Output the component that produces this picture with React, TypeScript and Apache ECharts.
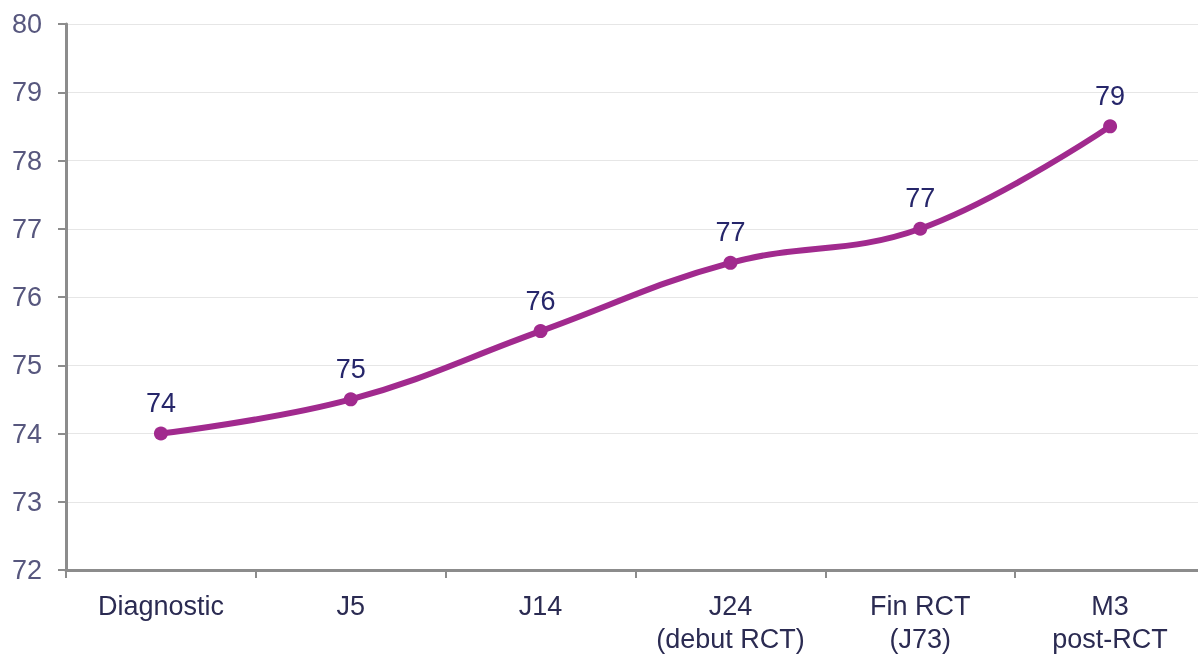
import React, { useEffect, useRef } from "react";
import * as echarts from "echarts";

const categories = ["Diagnostic", "J5", "J14", "J24\n(debut RCT)", "Fin RCT\n(J73)", "M3\npost-RCT"];
const values = [74, 74.5, 75.5, 76.5, 77, 78.5];
const yMin = 72;
const yMax = 80;

export default function App() {
  const ref = useRef<HTMLDivElement>(null);
  useEffect(() => {
    if (!ref.current) return;
    const chart = echarts.init(ref.current, null, { renderer: "svg" });
    chart.setOption({
      animation: false,
      grid: { left: 66, right: 0, top: 24, bottom: 80, containLabel: false },
      xAxis: {
        type: "category",
        data: categories,
        boundaryGap: true,
        axisLine: { lineStyle: { color: "#8c8c8c", width: 3 } },
        axisTick: { show: true, length: 8, lineStyle: { color: "#8c8c8c", width: 2 } },
        axisLabel: {
          color: "#2b2b52",
          fontSize: 27,
          fontFamily: "Liberation Sans, Arial, sans-serif",
          margin: 19,
          lineHeight: 33,
          interval: 0,
        },
      },
      yAxis: {
        type: "value",
        min: yMin,
        max: yMax,
        interval: 1,
        axisLine: { show: true, lineStyle: { color: "#8c8c8c", width: 3 } },
        axisTick: { show: true, length: 8, lineStyle: { color: "#8c8c8c", width: 2 } },
        splitLine: { lineStyle: { color: "#e6e6e6", width: 1 } },
        axisLabel: {
          color: "#57577e",
          fontSize: 27,
          fontFamily: "Liberation Sans, Arial, sans-serif",
          margin: 24,
        },
      },
      series: [
        {
          type: "line",
          data: values,
          smooth: 0.4,
          symbol: "circle",
          symbolSize: 14,
          lineStyle: { color: "#a12a8e", width: 6 },
          itemStyle: { color: "#a12a8e" },
          label: {
            show: true,
            position: "top",
            distance: 10,
            color: "#26266a",
            fontSize: 27,
            fontFamily: "Liberation Sans, Arial, sans-serif",
            formatter: (p: any) => String(Math.round(p.value)),
          },
        },
      ],
    });
    return () => chart.dispose();
  }, []);
  return (
    <div style={{ position: "fixed", left: 0, top: 0, width: 1198, height: 655, overflow: "hidden" }}>
      <div ref={ref} style={{ position: "absolute", left: 0, top: 0, width: 1205, height: 655 }} />
    </div>
  );
}
